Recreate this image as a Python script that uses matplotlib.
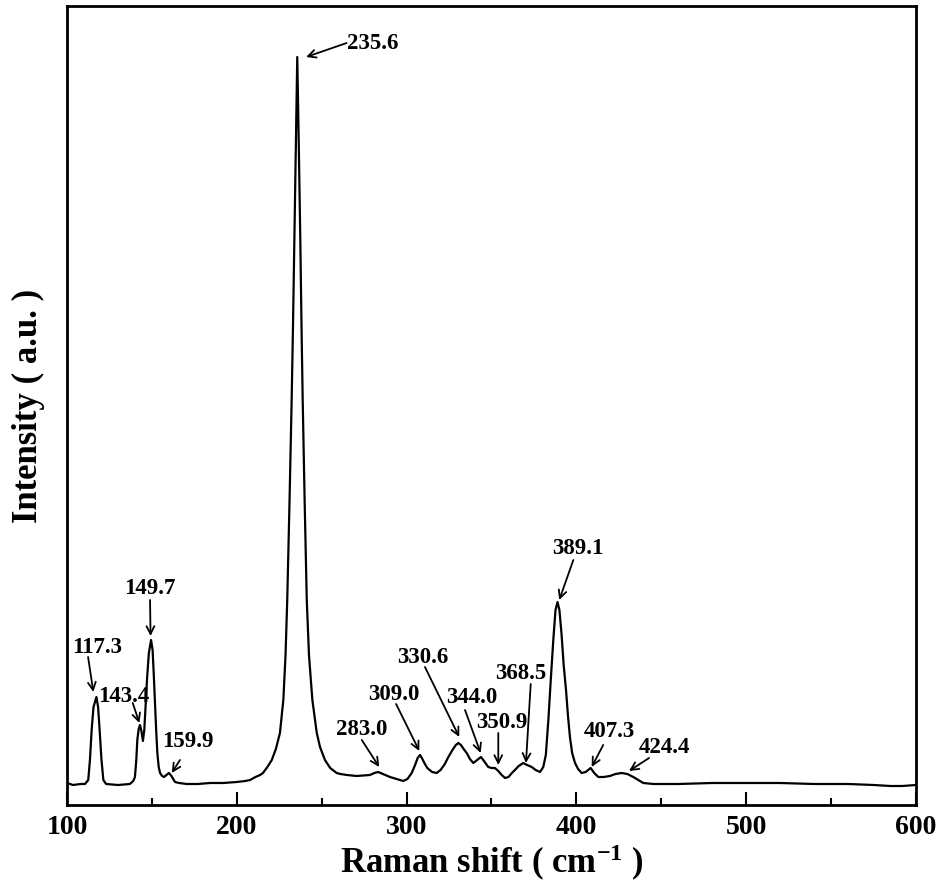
import matplotlib

matplotlib.use("Agg")
import matplotlib.pyplot as plt
from matplotlib.ticker import MultipleLocator

plt.rcParams["font.family"] = ["Liberation Serif", "DejaVu Serif"]
plt.rcParams["font.weight"] = "bold"
plt.rcParams["mathtext.fontset"] = "custom"
plt.rcParams["mathtext.rm"] = "Liberation Serif:bold"
plt.rcParams["mathtext.default"] = "rm"

# Raman spectrum (shift in cm-1, intensity in a.u.)
shift = [
    100.0, 103.5, 108.0, 110.6, 112.5, 113.5, 114.5, 115.6, 117.3, 118.3,
    119.2, 120.3, 121.4, 123.0, 130.0, 137.0, 139.0, 140.0, 140.8, 141.4,
    142.2, 143.0, 143.8, 144.7, 145.5, 146.3, 147.2, 148.2, 149.5, 150.4,
    151.1, 151.8, 152.5, 153.2, 154.0, 154.8, 156.0, 157.1, 158.5, 160.0,
    161.5, 163.6, 166.0, 170.5, 177.0, 184.2, 192.0, 200.0, 205.0, 207.8,
    211.0, 213.7, 215.4, 218.0, 220.6, 223.0, 225.4, 227.4, 228.7, 229.7,
    231.0, 232.3, 233.1, 233.9, 234.8, 235.6, 236.5, 237.4, 238.1, 238.8,
    240.0, 241.2, 242.5, 244.5, 247.1, 249.0, 251.9, 255.0, 258.8, 261.0,
    264.9, 270.6, 278.4, 281.0, 283.3, 286.0, 290.2, 294.0, 298.0, 300.5,
    303.0, 305.0, 306.5, 307.9, 309.3, 310.8, 312.2, 315.0, 317.7, 320.0,
    322.5, 324.6, 327.0, 329.0, 330.5, 332.0, 333.6, 335.4, 337.3, 339.3,
    341.5, 343.8, 346.0, 348.1, 350.0, 352.0, 354.0, 356.0, 358.0, 360.0,
    362.0, 363.8, 366.0, 368.7, 371.0, 373.7, 376.0, 378.6, 380.5, 382.0,
    383.5, 384.8, 386.4, 387.7, 388.9, 390.0, 391.3, 392.5, 393.9, 395.0,
    396.2, 397.5, 399.2, 401.0, 403.1, 405.5, 408.4, 410.5, 412.9, 416.0,
    419.8, 423.0, 426.7, 430.0, 433.5, 436.5, 439.4, 445.3, 460.0, 480.0,
    500.0, 520.0, 540.0, 560.0, 575.0, 585.0, 592.0, 600.0,
]
intensity = [
    22, 20, 21, 21, 25, 45, 75, 98, 108, 98,
    75, 45, 25, 21, 20, 21, 24, 28, 45, 65,
    76, 80, 74, 64, 75, 100, 128, 152, 165, 155,
    130, 102, 75, 52, 38, 32, 29, 28, 30, 32,
    29, 23, 22, 21, 21, 22, 22, 23, 24, 25,
    28, 30, 32, 38, 45, 56, 72, 105, 150, 205,
    300, 405, 480, 565, 660, 748, 660, 565, 480, 405,
    300, 205, 150, 105, 72, 58, 45, 37, 32, 31,
    30, 29, 30, 32, 33, 31, 28, 26, 24, 26,
    32, 40, 47, 50, 46, 41, 37, 33, 32, 35,
    41, 48, 55, 60, 62, 60, 56, 52, 46, 42,
    45, 48, 43, 38, 37, 37, 34, 30, 27, 28,
    32, 35, 39, 42, 40, 38, 35, 33, 38, 50,
    85, 122, 165, 195, 203, 195, 170, 140, 115, 90,
    68, 52, 42, 36, 32, 33, 37, 32, 28, 28,
    29, 31, 32, 31, 28, 25, 22, 21, 21, 22,
    22, 22, 21, 21, 20, 19, 19, 20,
]

peak_labels = [
    "117.3", "143.4", "149.7", "159.9", "235.6", "283.0", "309.0",
    "330.6", "344.0", "350.9", "368.5", "389.1", "407.3", "424.4",
]

# label layout: text centre, arrow start, arrow tip (data coords)
label_xy = [
    (118.0, 158), (133.2, 108), (148.9, 217), (171.0, 63), (280.2, 762),
    (273.6, 75), (292.6, 110), (309.4, 148), (338.3, 107), (356.0, 82),
    (367.3, 131), (400.9, 257), (419.2, 73), (451.6, 57),
]
arrow_from = [
    (112.4, 148), (138.7, 102), (148.9, 205), (166.5, 45), (264.7, 762),
    (273.6, 65), (293.8, 101), (310.8, 138), (334.4, 95), (354.0, 72),
    (373.1, 121), (398.2, 245), (415.8, 60), (442.8, 47),
]
arrow_to = [
    (115.5, 113), (142.6, 82), (149.2, 169), (161.7, 32), (240.8, 748),
    (283.9, 38), (307.5, 54), (331.0, 68), (343.6, 52), (354.0, 40),
    (370.3, 42), (389.9, 205), (409.0, 38), (431.0, 34),
]

fig = plt.figure(figsize=(9.44, 8.85), dpi=100)
ax = fig.add_axes([0.071, 0.0904, 0.8993, 0.9028])

ax.plot(shift, intensity, color="black", lw=1.6)

for label, txt, start, tip in zip(peak_labels, label_xy, arrow_from, arrow_to):
    ax.text(txt[0], txt[1], label, ha="center", va="center", fontsize=16.5, fontweight="bold")
    ax.annotate(
        "",
        xy=tip,
        xytext=start,
        arrowprops=dict(arrowstyle="->", lw=1.3, color="black", mutation_scale=14,
                        shrinkA=0, shrinkB=0),
    )

ax.set_xlim(100, 600)
ax.set_ylim(0, 799)
ax.xaxis.set_major_locator(MultipleLocator(100))
ax.xaxis.set_minor_locator(MultipleLocator(50))
ax.set_yticks([])
ax.tick_params(axis="x", which="major", direction="in", length=9.5, width=1.5,
               labelsize=20, pad=7, top=False)
ax.tick_params(axis="x", which="minor", direction="in", length=5, width=1.5, top=False)
for spine in ax.spines.values():
    spine.set_linewidth(2.0)

ax.set_xlabel("Raman shift ( cm$^{-1}$ )", fontsize=25, fontweight="bold", labelpad=2)
ax.set_ylabel("Intensity ( a.u. )", fontsize=25, fontweight="bold", labelpad=16)

fig.savefig("out.png", dpi=100)
